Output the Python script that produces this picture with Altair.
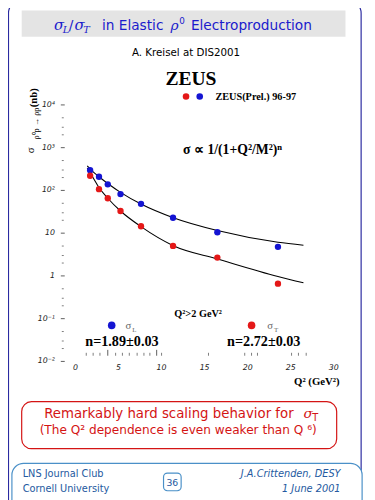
import altair as alt
import pandas as pd

# ---------------- data ----------------
q_points = [1.70, 2.73, 3.75, 5.23, 7.61, 11.33, 16.48, 23.52]
sigma_L = [298, 209, 139, 82, 48.6, 22.9, 10.5, 4.78]
sigma_T = [220, 107, 65.6, 33, 14.5, 5.04, 2.68, 0.66]

q_fit = [1.36, 2.05, 2.73, 3.75, 5.23, 7.61, 11.36, 16.48, 23.52, 26.48]
fit_L = [373, 272, 209, 145, 90, 47.9, 22.9, 11.5, 6.13, 5.24]
fit_T = [336, 198, 117, 65.6, 33, 14.2, 5.1, 2.5, 0.97, 0.69]

x_label_values = [0, 5, 10, 15, 20, 25, 30]
x_label_texts = ["0", "5", "10", "15", "20", "25", "30"]
x_minor_ticks = [1.25, 2.05, 2.84, 4.66, 5.45, 6.25, 7.16, 7.95, 8.64, 10.0,
                 15.45, 19.66, 20.45, 21.14, 25.1, 25.9, 26.8]
x_major_ticks = [3.75, 9.43]

y_label_values = [1e4, 1e3, 1e2, 10, 1, 0.1, 0.01]
y_label_texts = ["10⁴", "10³", "10²", "10", "1", "10⁻¹", "10⁻²"]
y_minor_ticks = [0.02, 0.03, 0.05, 0.2, 0.3, 0.5, 2, 3, 5, 20, 30, 50,
                 200, 300, 500, 2000, 3000, 5000]

# ---------------- styling ----------------
BLUE = "#1414d2"
RED = "#e41818"
TITLE_BLUE = "#1b1bcc"
BORDER = "#2a2aa0"
RED_TEXT = "#d41414"
FOOT = "#2459a0"
FOOT_BOX = "#4a90c8"
SERIF = "Liberation Serif"
SANS = "DejaVu Sans"

W, H = 367, 492
OX, OY = 8, 8

xs = alt.Scale(domain=[-69 / 8.8, (W - 69) / 8.8], nice=False, zero=False)
y_top = 2 + 181 / 43.7
y_bot = 2 - (H - 181) / 43.7
ys = alt.Scale(type="log", domain=[10 ** y_bot, 10 ** y_top], nice=False, zero=False)

one = pd.DataFrame({"d": [0]})


def txt(s, x, y, size, color="black", font=SANS, align="left", weight="normal",
        style="normal", angle=0, baseline="alphabetic"):
    return alt.Chart(one).mark_text(
        text=s, fontSize=size, color=color, font=font, align=align,
        fontWeight=weight, fontStyle=style, angle=angle, baseline=baseline
    ).encode(x=alt.value(x - OX), y=alt.value(y - OY))


def box(x1, y1, x2, y2, stroke="black", fill="white", fill_opacity=1.0,
        radius=0, sw=1.0):
    return alt.Chart(one).mark_rect(
        stroke=stroke, fill=fill, fillOpacity=fill_opacity, cornerRadius=radius,
        strokeWidth=sw
    ).encode(x=alt.value(x1 - OX), x2=alt.value(x2 - OX),
             y=alt.value(y1 - OY), y2=alt.value(y2 - OY))


def dot(x, y, color, size):
    return alt.Chart(one).mark_circle(color=color, size=size, opacity=1).encode(
        x=alt.value(x - OX), y=alt.value(y - OY))


layers = []

# outer frame and title box
layers.append(box(8.5, -6, 369, 540, stroke=BORDER, fill="white", fill_opacity=0,
                  radius=14, sw=1.2))
layers.append(box(22, 5, 353, 32, stroke="#e4e4e4", fill="#e4e4e4", radius=0, sw=0))

# title pieces
layers += [
    txt("σ", 55, 25, 15, TITLE_BLUE, font="DejaVu Serif", style="italic"),
    txt("L", 64, 28, 10, TITLE_BLUE, font="DejaVu Serif", style="italic"),
    txt("/", 70, 25, 14, TITLE_BLUE),
    txt("σ", 76, 25, 15, TITLE_BLUE, font="DejaVu Serif", style="italic"),
    txt("T", 85, 28, 10, TITLE_BLUE, font="DejaVu Serif", style="italic"),
    txt("in Elastic", 104, 25, 14, TITLE_BLUE),
    txt("ρ", 174, 25, 14, TITLE_BLUE, font="DejaVu Serif", style="italic"),
    txt("0", 183, 19, 9, TITLE_BLUE),
    txt("Electroproduction", 195, 25, 14, TITLE_BLUE),
]

layers.append(txt("A. Kreisel at DIS2001", 190, 52, 10.5, align="center"))
layers.append(txt("ZEUS", 195, 81, 20, font=SERIF, weight="bold", align="center"))

# top legend
layers += [
    dot(190, 93, RED, 45), dot(204, 93, BLUE, 45),
    txt("ZEUS(Prel.) 96-97", 220, 97, 10.5, font=SERIF, weight="bold"),
    txt("σ ∝  1/(1+Q²/M²)ⁿ", 187, 152, 14, font=SERIF, weight="bold"),
]

# y-axis title (rotated)
layers += [
    txt("σ", 32, 151, 11, font=SERIF, angle=270, baseline="middle"),
    txt("ρ⁰p → ρp", 37, 137, 8.5, font=SERIF, angle=270, baseline="middle"),
    txt("(nb)", 35, 104, 11, font=SERIF, weight="bold", angle=270, baseline="middle"),
]

# axes made from tick lists through the scales
ylab_df = pd.DataFrame({"v": y_label_values, "lab": y_label_texts})
layers.append(alt.Chart(ylab_df).mark_text(
    align="right", baseline="middle", fontSize=8, fontStyle="italic", font=SANS,
    color="#222").encode(
    y=alt.Y("v:Q", scale=ys, axis=None), x=alt.value(56 - OX), text="lab:N"))
layers.append(alt.Chart(ylab_df).mark_rule(color="#333", strokeWidth=0.8).encode(
    y=alt.Y("v:Q", scale=ys, axis=None), x=alt.value(62 - OX), x2=alt.value(66 - OX)))
ymin_df = pd.DataFrame({"v": y_minor_ticks})
layers.append(alt.Chart(ymin_df).mark_rule(color="#444", strokeWidth=0.7).encode(
    y=alt.Y("v:Q", scale=ys, axis=None), x=alt.value(63 - OX), x2=alt.value(65 - OX)))

xlab_df = pd.DataFrame({"q": x_label_values, "lab": x_label_texts})
layers.append(alt.Chart(xlab_df).mark_text(
    align="center", baseline="alphabetic", fontSize=8, fontStyle="italic", font=SANS,
    color="#222").encode(
    x=alt.X("q:Q", scale=xs, axis=None), y=alt.value(373 - OY), text="lab:N"))
xmin_df = pd.DataFrame({"q": x_minor_ticks})
layers.append(alt.Chart(xmin_df).mark_rule(color="#444", strokeWidth=0.7).encode(
    x=alt.X("q:Q", scale=xs, axis=None), y=alt.value(355 - OY), y2=alt.value(358 - OY)))
xmaj_df = pd.DataFrame({"q": x_major_ticks})
layers.append(alt.Chart(xmaj_df).mark_rule(color="#333", strokeWidth=0.8).encode(
    x=alt.X("q:Q", scale=xs, axis=None), y=alt.value(352 - OY), y2=alt.value(358 - OY)))
layers.append(txt("Q² (GeV²)", 347, 388, 11, font=SERIF, weight="bold", align="right"))

# fit curves and data points
fit_df = pd.DataFrame({
    "q": q_fit + q_fit,
    "v": fit_L + fit_T,
    "s": ["L"] * len(q_fit) + ["T"] * len(q_fit),
})
layers.append(alt.Chart(fit_df).mark_line(
    color="black", strokeWidth=1.1, interpolate="monotone").encode(
    x=alt.X("q:Q", scale=xs, axis=None), y=alt.Y("v:Q", scale=ys, axis=None),
    detail="s:N"))
pts_df = pd.DataFrame({
    "q": q_points + q_points,
    "v": sigma_L + sigma_T,
    "s": ["L"] * len(q_points) + ["T"] * len(q_points),
})
layers.append(alt.Chart(pts_df).mark_circle(size=42, opacity=1).encode(
    x=alt.X("q:Q", scale=xs, axis=None), y=alt.Y("v:Q", scale=ys, axis=None),
    color=alt.Color("s:N", scale=alt.Scale(domain=["L", "T"], range=[BLUE, RED]),
                    legend=None)))

# lower annotations
layers += [
    txt("Q²>2 GeV²", 178, 318, 10.5, font=SERIF, weight="bold"),
    dot(114, 327, BLUE, 60),
    txt("σ", 128, 331, 11, color="#666", font=SERIF),
    txt("L", 135, 334, 7, color="#666", font=SERIF),
    dot(257, 327, RED, 60),
    txt("σ", 273, 331, 11, color="#666", font=SERIF),
    txt("T", 280, 334, 7, color="#666", font=SERIF),
    txt("n=1.89±0.03", 87, 348, 14.5, font=SERIF, weight="bold"),
    txt("n=2.72±0.03", 232, 348, 14.5, font=SERIF, weight="bold"),
]

# red statement box
layers += [
    box(22, 405, 344, 453, stroke=RED_TEXT, fill="white", fill_opacity=0, radius=10, sw=1.2),
    txt("Remarkably hard scaling behavior for", 45, 422, 13.6, RED_TEXT),
    txt("σ", 310, 422, 14, RED_TEXT, font="DejaVu Serif", style="italic"),
    txt("T", 319, 425, 10, RED_TEXT),
    txt("(The Q² dependence is even weaker than Q ⁶)", 182, 438, 12.4, RED_TEXT, align="center"),
]

# footer
layers += [
    box(12, 468, 370, 530, stroke=FOOT_BOX, fill="white", radius=12, sw=1.2),
    txt("LNS Journal Club", 23, 482, 10, FOOT),
    txt("Cornell University", 23, 497, 10, FOOT),
    txt("J.A.Crittenden, DESY", 348, 482, 10, FOOT, style="italic", align="right"),
    txt("1 June 2001", 348, 497, 10, FOOT, style="italic", align="right"),
    box(167, 478, 185, 496, stroke=FOOT_BOX, fill="white", radius=4, sw=1.2),
    txt("36", 176, 491, 9.5, FOOT, align="center"),
]

chart = alt.layer(*layers).properties(
    width=W, height=H, autosize=alt.AutoSizeParams(type="none"), padding=0
).configure_view(strokeWidth=0)

chart.save("out.html", embed_options={"renderer": "svg", "actions": False})
